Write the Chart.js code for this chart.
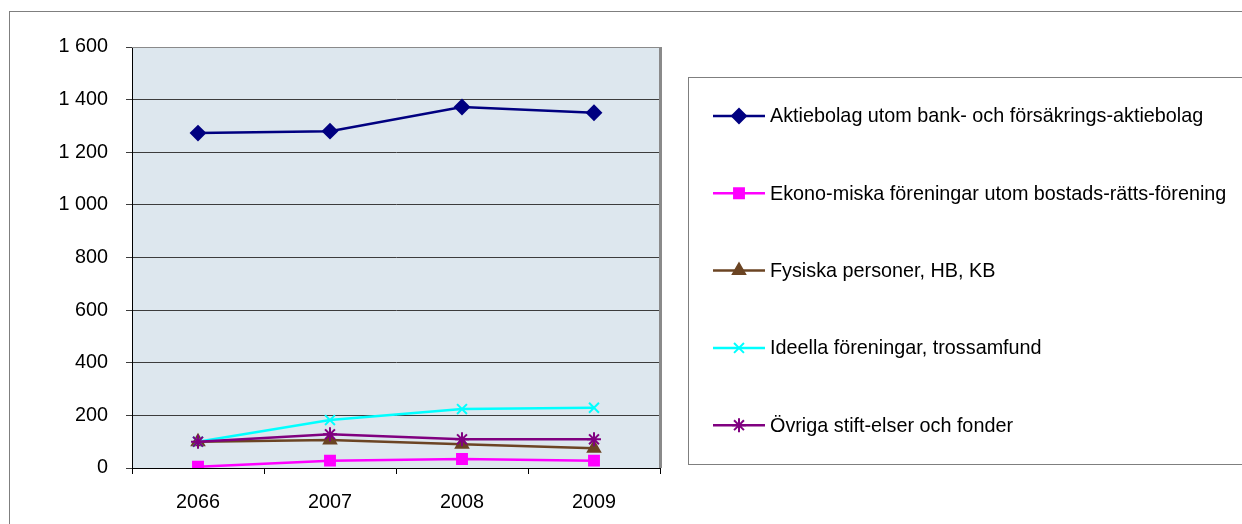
<!DOCTYPE html>
<html>
<head>
<meta charset="utf-8">
<script src="https://cdn.jsdelivr.net/npm/chart.js@4"></script>
<style>
  html, body { margin: 0; padding: 0; background: #fff; }
  #wrap { width: 1242px; height: 524px; position: relative; }
</style>
</head>
<body>
<div id="wrap"><canvas id="chart" width="1242" height="524"></canvas></div>
<script>
// years as printed on the axis (the first one really does say 2066)
const years = ['2066', '2007', '2008', '2009'];

const seriesNames = [
  'Aktiebolag utom bank- och försäkrings-aktiebolag',
  'Ekono-miska föreningar utom bostads-rätts-förening',
  'Fysiska personer, HB, KB',
  'Ideella föreningar, trossamfund',
  'Övriga stift-elser och fonder',
];

const aktiebolag = [1273, 1280, 1372, 1350];
const ekonomiska = [5, 28, 34, 28];
const fysiska = [100, 106, 90, 75];
const ideella = [100, 182, 224, 229];
const ovriga = [100, 128, 109, 109];

const yTicks = { min: 0, max: 1600, step: 200 };

const seriesValues = [aktiebolag, ekonomiska, fysiska, ideella, ovriga];
const seriesColors = ['#000080', '#ff00ff', '#6b4423', '#00ffff', '#800080'];
const seriesMarkers = ['rectRot', 'rect', 'triangle', 'crossRot', 'star'];
const markerRadius = [7, 7, 7, 7, 7];

const FONT = 'Liberation Sans, Arial, sans-serif';
const FONT_SIZE = 19.8;

/**
 * Formats a number with a space as thousands separator
 * @param {number} v value
 * @returns formatted string
 */
function spaced(v) {
  return String(v).replace(/\B(?=(\d{3})+(?!\d))/g, ' ');
}

// Plot background, plot border and outer chart frame
const frame = {
  id: 'frame',
  beforeDraw(chart) {
    const { ctx, chartArea: a } = chart;
    ctx.save();
    ctx.fillStyle = '#fff';
    ctx.fillRect(0, 0, chart.width, chart.height);
    ctx.strokeStyle = '#7f7f7f';
    ctx.lineWidth = 1;
    ctx.strokeRect(9.5, 11.5, 1300, 600);
    ctx.fillStyle = '#dde7ee';
    ctx.fillRect(a.left, a.top, a.right - a.left, a.bottom - a.top);
    ctx.restore();
  },
  afterDatasetsDraw(chart) {
    const { ctx, chartArea: a } = chart;
    ctx.save();
    ctx.strokeStyle = '#8a8a8a';
    ctx.lineWidth = 1;
    ctx.beginPath();
    ctx.moveTo(a.left, a.top + 0.5);
    ctx.lineTo(a.right, a.top + 0.5);
    ctx.stroke();
    ctx.lineWidth = 3;
    ctx.beginPath();
    ctx.moveTo(a.right + 0.5, a.top);
    ctx.lineTo(a.right + 0.5, a.bottom);
    ctx.stroke();
    ctx.restore();
  },
};

// Boxed legend to the right, line + marker like the spreadsheet
const boxLegend = {
  id: 'boxLegend',
  afterDraw(chart) {
    const { ctx } = chart;
    const box = { x: 688, y: 77, w: 700, h: 387 };
    ctx.save();
    ctx.fillStyle = '#fff';
    ctx.fillRect(box.x, box.y, box.w, box.h);
    ctx.strokeStyle = '#7f7f7f';
    ctx.lineWidth = 1;
    ctx.strokeRect(box.x + 0.5, box.y + 0.5, box.w, box.h);

    const step = 77.3;
    chart.data.datasets.forEach((ds, i) => {
      const cy = 116 + i * step;
      ctx.strokeStyle = ds.borderColor;
      ctx.lineWidth = 2.5;
      ctx.beginPath();
      ctx.moveTo(713, cy);
      ctx.lineTo(765, cy);
      ctx.stroke();
      ctx.lineWidth = 2;
      ctx.fillStyle = ds.pointBackgroundColor;
      ctx.strokeStyle = ds.pointBorderColor;
      Chart.helpers.drawPoint(ctx, {
        pointStyle: ds.pointStyle,
        radius: ds.pointRadius,
        rotation: 0,
        borderWidth: 2,
      }, 739, cy);
      ctx.fillStyle = '#000';
      ctx.font = FONT_SIZE + 'px ' + FONT;
      ctx.textBaseline = 'middle';
      ctx.textAlign = 'left';
      ctx.fillText(ds.label, 770, cy + 1);
    });
    ctx.restore();
  },
};

const datasets = seriesNames.map((name, i) => ({
  label: name,
  data: seriesValues[i],
  borderColor: seriesColors[i],
  backgroundColor: seriesColors[i],
  pointBackgroundColor: seriesColors[i],
  pointBorderColor: seriesColors[i],
  pointStyle: seriesMarkers[i],
  pointRadius: markerRadius[i],
  pointBorderWidth: 2,
  borderWidth: 2.5,
  tension: 0,
  order: seriesNames.length - i,
}));

new Chart(document.getElementById('chart').getContext('2d'), {
  type: 'line',
  data: { labels: years, datasets },
  options: {
    responsive: false,
    animation: false,
    layout: { padding: { left: 0, top: 47, right: 582, bottom: 0 } },
    plugins: { legend: { display: false }, tooltip: { enabled: false } },
    scales: {
      x: {
        offset: true,
        grid: {
          offset: true,
          drawOnChartArea: false,
          drawTicks: true,
          tickLength: 6,
          color: '#000',
        },
        border: { color: '#000', width: 1 },
        ticks: { color: '#000', font: { family: FONT, size: FONT_SIZE }, padding: 17, maxRotation: 0 },
        afterFit(scale) { scale.height = 56; },
      },
      y: {
        min: yTicks.min,
        max: yTicks.max,
        grid: { color: '#3c3c3c', tickLength: 6, lineWidth: 1 },
        border: { color: '#000', width: 1 },
        ticks: {
          stepSize: yTicks.step,
          color: '#000',
          font: { family: FONT, size: FONT_SIZE },
          padding: 18,
          callback: (v) => spaced(v),
        },
        afterFit(scale) { scale.width = 132; },
      },
    },
  },
  plugins: [frame, boxLegend],
});
</script>
</body>
</html>
